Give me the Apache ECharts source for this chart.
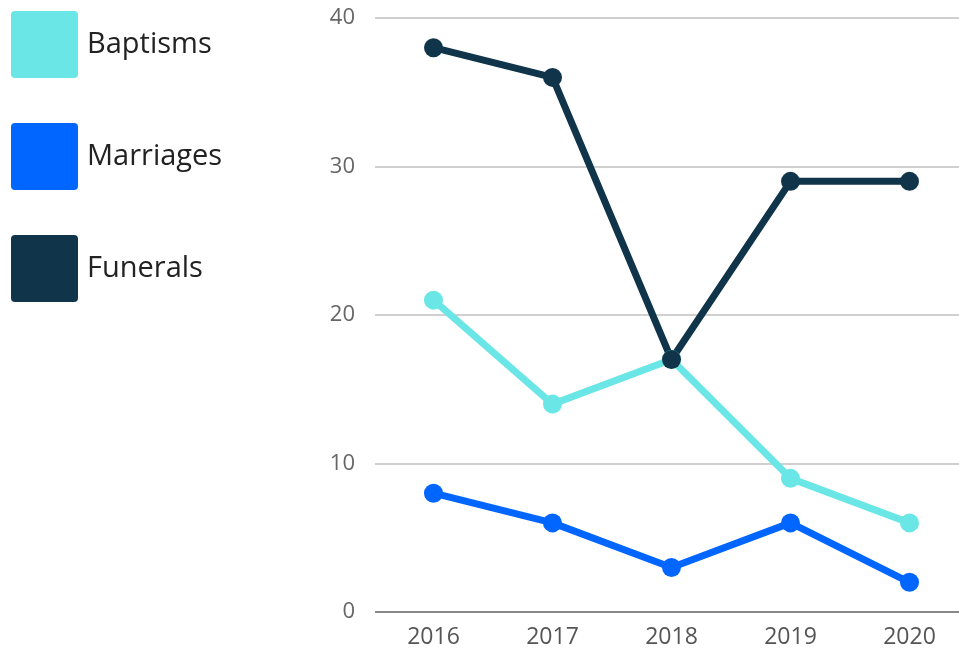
<!DOCTYPE html>
<html>
<head>
<meta charset="utf-8">
<script src="https://cdn.jsdelivr.net/npm/echarts@6/dist/echarts.min.js"></script>
<style>html,body{margin:0;padding:0;background:#fff}#c{width:959px;height:651px}</style>
</head>
<body>
<div id="c"></div>
<script>
const years = ['2016', '2017', '2018', '2019', '2020'];
const baptisms = [21, 14, 17, 9, 6];
const marriages = [8, 6, 3, 6, 2];
const funerals = [38, 36, 17, 29, 29];
const yTicks = [0, 10, 20, 30, 40];

const colors = ['#6ae6e6', '#0066ff', '#10344a'];
const chart = echarts.init(document.getElementById('c'));
const mk = (name, data, color) => ({
  name, type: 'line', data, xAxisIndex: 1, yAxisIndex: 1,
  symbol: 'circle', symbolSize: 19,
  lineStyle: { width: 7, color },
  itemStyle: { color },
  emphasis: { disabled: true }
});
const yMin = yTicks[0], yMax = yTicks[yTicks.length - 1];
chart.setOption({
  animation: false,
  textStyle: { fontFamily: 'Open Sans' },
  legend: {
    orient: 'vertical', left: 6, top: 6,
    itemWidth: 67, itemHeight: 67, itemGap: 45,
    icon: 'path://M4,0H63A4,4,0,0,1,67,4V63A4,4,0,0,1,63,67H4A4,4,0,0,1,0,63V4A4,4,0,0,1,4,0Z',
    textStyle: { fontSize: 29, color: '#222', fontFamily: 'Open Sans', padding: [0, 0, 0, 4] },
    data: ['Baptisms', 'Marriages', 'Funerals']
  },
  grid: [
    { left: 375, right: 0, top: 18, bottom: 39, containLabel: false },
    { left: 433.5, right: 49.5, top: 18, bottom: 39, containLabel: false }
  ],
  xAxis: [
    { type: 'category', gridIndex: 0, data: years, show: false },
    { type: 'category', gridIndex: 1, data: years, boundaryGap: false,
      axisLine: { show: false }, axisTick: { show: false }, splitLine: { show: false },
      axisLabel: { fontSize: 23, color: '#555', margin: 14, fontFamily: 'Open Sans' } }
  ],
  yAxis: [
    { type: 'value', gridIndex: 0, min: yMin, max: yMax, interval: 10,
      axisLine: { show: false }, axisTick: { show: false },
      axisLabel: { fontSize: 22, color: '#666', margin: 20, fontFamily: 'Open Sans' },
      splitLine: { lineStyle: { color: '#d0d0d0', width: 2 } } },
    { type: 'value', gridIndex: 1, min: yMin, max: yMax, interval: 10, show: false,
      splitLine: { show: false } }
  ],
  series: [
    { type: 'line', xAxisIndex: 0, yAxisIndex: 0, data: [], markLine: { silent: true, symbol: 'none', label: { show: false },
      lineStyle: { color: '#888', width: 2, type: 'solid' }, data: [{ yAxis: 0 }] } },
    mk('Baptisms', baptisms, colors[0]),
    mk('Marriages', marriages, colors[1]),
    mk('Funerals', funerals, colors[2])
  ]
});
</script>
</body>
</html>
